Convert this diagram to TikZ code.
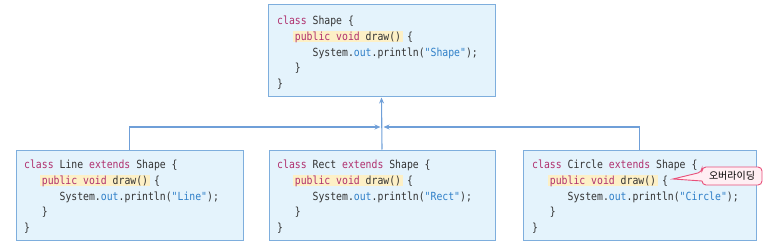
\documentclass[tikz,border=0pt]{standalone}
\usepackage{fontspec}
\setmonofont[FakeStretch=0.875]{DejaVu Sans Mono}
\newfontfamily\krfont{Noto Sans CJK KR}
\usetikzlibrary{arrows.meta}
\definecolor{boxfill}{HTML}{E4F3FC}
\definecolor{boxline}{HTML}{7EAEDD}
\definecolor{conncol}{HTML}{6F9FD8}
\definecolor{kwcol}{HTML}{B0306E}
\definecolor{strcol}{HTML}{2F7FC8}
\definecolor{txtcol}{HTML}{333333}
\definecolor{hlcol}{HTML}{FDF0C6}
\definecolor{calloutline}{HTML}{E8507A}
\definecolor{calloutfill}{HTML}{FFEEF3}
\newsavebox\hlbox
\newcommand\kw[1]{\textcolor{kwcol}{#1}}
\newcommand\st[1]{\textcolor{strcol}{#1}}
\newcommand\hlt[1]{\sbox\hlbox{#1}\rlap{\hspace{-1.5pt}\textcolor{hlcol}{\rule[-2pt]{\dimexpr\wd\hlbox+3pt\relax}{11.5pt}}}\usebox\hlbox}
\tikzset{
  classbox/.style={draw=boxline, fill=boxfill, line width=1pt, inner sep=0pt},
  code/.style={anchor=base west, inner sep=0pt, text=txtcol, font=\ttfamily\fontsize{11.2}{12}\selectfont},
  conn/.style={draw=conncol, line width=1.1pt, -{Stealth[length=6pt,width=5pt]}},
  callout/.style={draw=calloutline, fill=calloutfill, line width=0.9pt},
  callouttext/.style={inner sep=0pt, font=\krfont\fontsize{10}{11}\selectfont, text=black}
}
\newcommand\codelines[5]{%
  \node[code] (#1a) at (#2,#3) {#4};
  \node[code] (#1b) at (#2+17.7,#3+15.8) {\hlt{\kw{public void} \textcolor{txtcol}{draw()}} \{};
  \node[code] (#1c) at (#2+35.4,#3+31.6) {System.\st{out}.println(\st{"#5"});};
  \node[code] (#1d) at (#2+17.7,#3+47.4) {\}};
  \node[code] (#1e) at (#2,#3+63.2) {\}};
}
\begin{document}
\begin{tikzpicture}[x=1pt,y=-1pt]
\useasboundingbox (0,0) rectangle (773,251);
% boxes
\node[classbox, minimum width=227pt, minimum height=92pt] (top) at (381.5,51) {};
\node[classbox, minimum width=227pt, minimum height=90pt] (left) at (129.5,195) {};
\node[classbox, minimum width=226pt, minimum height=90pt] (mid) at (382,195) {};
\node[classbox, minimum width=233pt, minimum height=90pt] (right) at (639.5,195) {};
% connectors
\coordinate (jl) at (380.5,127);
\coordinate (jr) at (383.5,127);
\draw[conn] (mid.north) -- (top.south);
\draw[conn] (left.north) |- (jl);
\draw[conn] (right.north) |- (jr);
% code
\codelines{t}{277}{24.5}{\kw{class} Shape \{}{Shape}
\codelines{l}{24}{168.5}{\kw{class} Line \kw{extends} Shape \{}{Line}
\codelines{m}{277}{168.5}{\kw{class} Rect \kw{extends} Shape \{}{Rect}
\codelines{r}{532}{168.5}{\kw{class} Circle \kw{extends} Shape \{}{Circle}
% callout
\draw[callout, rounded corners=4pt] (730,167) -- (702,167) -- (702,172) [sharp corners] -- (673,179) -- (702,181) [rounded corners=4pt] -- (702,185) -- (762,185) -- (762,167) -- cycle;
\node[callouttext] (over) at (732,176) {오버라이딩};
\end{tikzpicture}
\end{document}
